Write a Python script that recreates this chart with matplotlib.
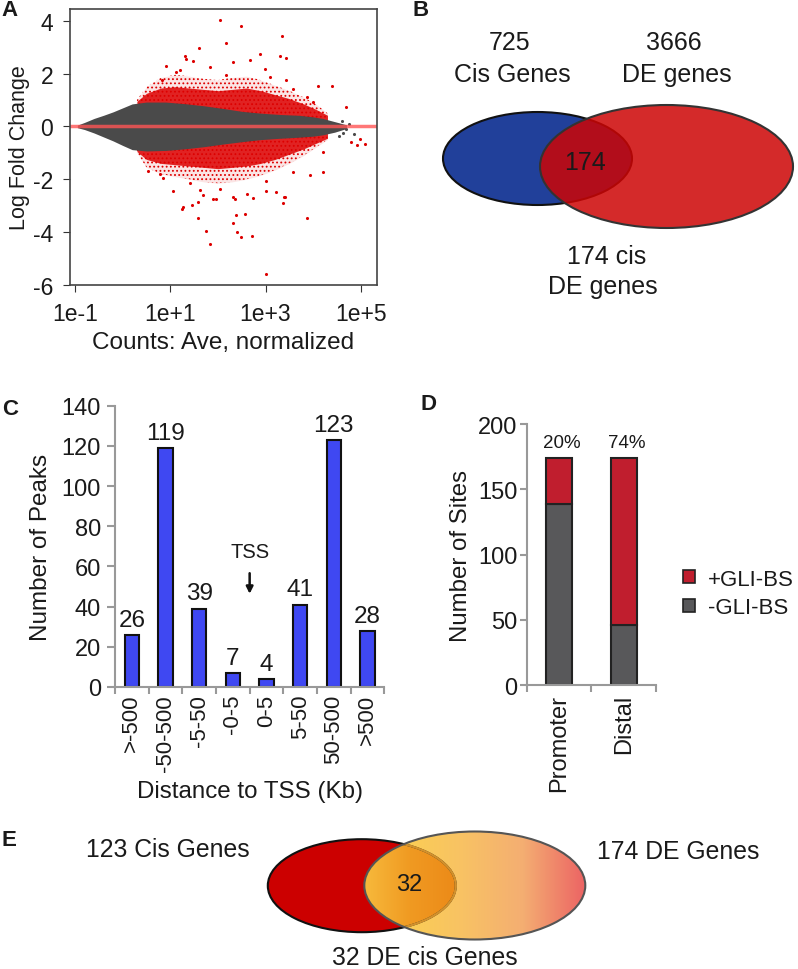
import numpy as np
import matplotlib
matplotlib.use('Agg')
import matplotlib.pyplot as plt
from matplotlib.patches import Ellipse, Patch, PathPatch
from matplotlib.path import Path
from matplotlib.colors import LinearSegmentedColormap
from matplotlib.ticker import NullLocator

plt.rcParams['font.family'] = ['Liberation Sans', 'DejaVu Sans']
plt.rcParams['hatch.linewidth'] = 0.8
TXT = '#1a1a1a'

# ---- data -------------------------------------------------------------
# A: MA plot (log10 of mean counts, log fold change)
core_logx = [-0.95, -0.8, -0.6, -0.4, -0.2, 0.0, 0.2, 0.5, 0.9, 1.3, 1.7, 2.1,
             2.5, 2.9, 3.3, 3.7, 4.0, 4.2, 4.45, 4.7]
core_hi = [0.05, 0.15, 0.3, 0.42, 0.55, 0.7, 0.85, 0.92, 0.92, 0.86, 0.78, 0.68,
           0.57, 0.5, 0.45, 0.42, 0.36, 0.3, 0.18, 0.06]
core_lo = [-0.05, -0.12, -0.25, -0.4, -0.55, -0.72, -0.88, -0.93, -0.91, -0.85,
           -0.77, -0.67, -0.58, -0.5, -0.45, -0.41, -0.37, -0.32, -0.22, -0.08]
de_logx = [0.3, 0.5, 0.8, 1.1, 1.4, 1.7, 2.0, 2.3, 2.6, 2.9, 3.2, 3.5, 3.8, 4.05, 4.3]
de_dense_hi = [0.95, 1.25, 1.45, 1.5, 1.45, 1.4, 1.35, 1.4, 1.45, 1.35, 1.2, 1.05, 0.85, 0.65, 0.42]
de_dense_lo = [-0.95, -1.25, -1.4, -1.45, -1.5, -1.55, -1.6, -1.55, -1.5, -1.4, -1.25, -1.05, -0.85, -0.65, -0.45]
de_sparse_hi = [1.0, 1.5, 1.85, 1.95, 1.9, 1.8, 1.75, 1.85, 1.9, 1.75, 1.55, 1.35, 1.1, 0.85, 0.5]
de_sparse_lo = [-1.0, -1.55, -1.8, -1.9, -2.0, -2.1, -2.15, -2.1, -2.0, -1.85, -1.65, -1.4, -1.1, -0.8, -0.5]
de_out_logx = [2.04, 2.48, 2.16, 3.34, 1.60, 1.31, 1.48, 0.91, 2.88, 3.31, 3.42, 2.99, 4.10,
               4.40, 4.68, 4.20, 3.94, 1.06, 1.26, 1.24, 1.45, 1.59, 1.90, 2.04, 2.32, 2.62,
               2.74, 3.02, 3.37, 3.41, 1.59, 1.75, 1.83, 2.32, 2.38, 2.41, 2.48, 2.71, 2.57,
               3.00, 3.87, 1.69, 1.41, 0.85, 1.34, 1.13, 1.83, 2.32, 2.67, 3.44, 4.21, 1.97,
               2.36, 3.23, 3.38, 1.62, 0.78, 0.54, 3.02, 3.58, 0.82, 1.20, 2.18, 3.09, 3.58,
               3.86, 4.0, 4.8, 4.99, 5.08, 4.91]
de_out_lfc = [4.04, 3.81, 3.14, 3.40, 2.97, 2.68, 2.49, 2.30, 2.72, 2.65, 2.58, 2.18, 1.51,
              1.51, 0.73, -1.72, -1.85, -2.45, -3.04, -3.13, -2.96, -2.86, -2.73, -2.35,
              -2.67, -2.57, -2.70, -2.45, -2.88, -2.69, -3.48, -3.95, -4.45, -3.64, -3.36,
              -3.99, -4.20, -4.15, -3.33, -5.60, -3.48, -2.60, -2.16, -1.97, 2.56, 2.06,
              2.25, 2.44, 2.5, 1.77, -0.97, -2.74, -2.74, -2.48, -2.68, -2.42, -1.79, -1.67,
              -2.05, -1.73, 1.74, 2.12, 1.93, 1.87, 1.43, 1.11, 0.92, -0.59, -0.47, -0.68, -0.72]
ns_out_logx = [4.49, 4.6, 4.68, 4.75, 4.62, 4.85, 4.55, -0.75, -0.68, -0.6, -0.55]
ns_out_lfc = [0.04, 0.2, -0.1, 0.1, -0.25, -0.3, -0.35, 0.03, 0.02, 0.05, -0.05]

# B: Venn
b_cis, b_de, b_both = 725, 3666, 174

# C: distance to TSS
tss_bins = ['>-500', '-50-500', '-5-50', '-0-5', '0-5', '5-50', '50-500', '>500']
tss_peaks = [26, 119, 39, 7, 4, 41, 123, 28]

# D: sites
site_groups = ['Promoter', 'Distal']
site_minus = [139, 46]
site_plus = [35, 128]

# E: Venn
e_cis, e_de, e_both = 123, 174, 32

W, H = 798, 970
fig = plt.figure(figsize=(W / 100, H / 100), dpi=100)

def rect(l, t, r, b):
    return [l / W, 1 - b / H, (r - l) / W, (b - t) / H]

# ---- A ----------------------------------------------------------------
axA = fig.add_axes(rect(70, 10, 377, 286))
red = '#dd0000'
cx = 10 ** np.array(core_logx)
dx = 10 ** np.array(de_logx)
axA.fill_between(dx, de_sparse_lo, de_sparse_hi, color=red, alpha=0.1, lw=0)
axA.fill_between(dx, de_sparse_lo, de_sparse_hi, facecolor='none', edgecolor=red,
                 hatch='....', lw=0)
axA.fill_between(dx, de_dense_lo, de_dense_hi, color=red, alpha=0.85, lw=0)
axA.fill_between(cx, core_lo, core_hi, color='#4a4a4a', lw=0)
axA.scatter(10 ** np.array(de_out_logx), de_out_lfc, s=5, color=red, lw=0)
axA.scatter(10 ** np.array(ns_out_logx), ns_out_lfc, s=5, color='#4a4a4a', lw=0)
axA.axhline(0, color='#ff5555', lw=2.5, alpha=0.8)
axA.set_xscale('log')
axA.set_xlim(10 ** -1.105, 10 ** 5.34)
axA.set_ylim(-5.99, 4.44)
axA.set_xticks([1e-1, 1e1, 1e3, 1e5])
axA.set_xticklabels(['1e-1', '1e+1', '1e+3', '1e+5'])
axA.xaxis.set_minor_locator(NullLocator())
axA.set_yticks([-6, -4, -2, 0, 2, 4])
axA.set_yticklabels(['-6', '-4', '-2', '0', '2', '4'])
axA.tick_params(labelsize=16.5, length=5, color='#333', labelcolor=TXT, pad=7)
for s in axA.spines.values():
    s.set_color('#444')
    s.set_linewidth(1.2)
axA.set_xlabel('Counts: Ave, normalized', fontsize=17.5, color=TXT)
axA.set_ylabel('Log Fold Change', fontsize=15.5, color=TXT)
axA.xaxis.set_label_coords(0.497, -0.165)
axA.yaxis.set_label_coords(-0.13, 0.5)

# ---- C ----------------------------------------------------------------
axC = fig.add_axes(rect(115, 406.7, 384.3, 688))
xc = np.arange(len(tss_bins))
axC.bar(xc, tss_peaks, width=0.42, color='#3f48f2', edgecolor='#111', lw=1.5)
for x, v in zip(xc, tss_peaks):
    axC.annotate(str(v), (x, v), xytext=(0, 3), textcoords='offset points',
                 ha='center', va='bottom', fontsize=17.5, color=TXT)
axC.set_xlim(-0.5, len(tss_bins) - 0.5)
axC.set_ylim(0, 140)
axC.set_yticks(range(0, 141, 20))
axC.set_xticks(xc)
axC.set_xticklabels(tss_bins, rotation=90, fontsize=16, color=TXT)
axC.set_xticks(np.arange(-0.5, len(tss_bins), 1), minor=True)
axC.tick_params(axis='x', which='major', length=0, pad=5)
axC.tick_params(axis='x', which='minor', length=5, color='#999', width=1.5)
axC.tick_params(axis='y', labelsize=17, length=6, color='#999', width=1.5,
                labelcolor=TXT, pad=4)
for k in ['top', 'right']:
    axC.spines[k].set_visible(False)
for k in ['left', 'bottom']:
    axC.spines[k].set_color('#999')
    axC.spines[k].set_linewidth(1.5)
axC.set_ylabel('Number of Peaks', fontsize=17.5, color=TXT)
axC.yaxis.set_label_coords(-0.234, 0.5)
axC.set_xlabel('Distance to TSS (Kb)', fontsize=17.4, color=TXT)
axC.xaxis.set_label_coords(0.5, -0.33)
axC.text(3.5, 67.3, 'TSS', ha='center', va='center', fontsize=14.5, color=TXT)
axC.annotate('', xy=(3.5, 45.0), xytext=(3.5, 58),
             arrowprops=dict(arrowstyle='-|>', color='#111', lw=1.8, mutation_scale=10))

# ---- D ----------------------------------------------------------------
axD = fig.add_axes(rect(526.5, 425, 656, 686.3))
xd = np.arange(len(site_groups))
axD.bar(xd, site_minus, width=0.4, color='#58585a', edgecolor='#222', lw=1.5)
axD.bar(xd, site_plus, bottom=site_minus, width=0.4, color='#c01e2e', edgecolor='#222', lw=1.5)
for x, m, p in zip(xd, site_minus, site_plus):
    axD.text(x + 0.05, 186, '%d%%' % round(100 * p / (m + p)), ha='center', va='center',
             fontsize=13.5, color=TXT)
axD.set_xlim(-0.5, 1.5)
axD.set_ylim(0, 200)
axD.set_yticks([0, 50, 100, 150, 200])
axD.set_xticks(xd)
axD.set_xticklabels(site_groups, rotation=90, fontsize=17, color=TXT)
axD.set_xticks([-0.5, 0.5, 1.5], minor=True)
axD.tick_params(axis='x', which='major', length=0, pad=6)
axD.tick_params(axis='x', which='minor', length=5, color='#999', width=1.5)
axD.tick_params(axis='y', labelsize=17, length=5, color='#999', width=1.5,
                labelcolor=TXT, pad=1.5)
for k in ['top', 'right']:
    axD.spines[k].set_visible(False)
for k in ['left', 'bottom']:
    axD.spines[k].set_color('#999')
    axD.spines[k].set_linewidth(1.5)
axD.set_ylabel('Number of Sites', fontsize=17.3, color=TXT)
axD.yaxis.set_label_coords(-0.42, 0.5)
fig.legend(handles=[Patch(fc='#c01e2e', ec='#222', lw=1.2), Patch(fc='#58585a', ec='#222', lw=1.2)],
           labels=['+GLI-BS', '-GLI-BS'], loc='center left',
           bbox_to_anchor=(672 / W, 1 - 594.5 / H), frameon=False, fontsize=16,
           handlelength=0.55, handleheight=0.55, handletextpad=0.55, labelspacing=0.36,
           borderpad=0, labelcolor=TXT)

# ---- overlay: Venn diagrams, panel letters ------------------------------
ax0 = fig.add_axes([0, 0, 1, 1])
ax0.axis('off')

# B
ax0.add_patch(Ellipse((537.5, 159.5), 189, 93, fc='#21409a', ec='#111', lw=1.5))
ax0.add_patch(Ellipse((666.5, 167.5), 253, 123, fc=(205 / 255, 5 / 255, 5 / 255, 0.85),
                      ec='#333', lw=1.5))
bfs = 18
ax0.text(510, 43, str(b_cis), ha='center', va='center', fontsize=bfs, color=TXT)
ax0.text(512, 75, 'Cis Genes', ha='center', va='center', fontsize=bfs, color=TXT)
ax0.text(674, 43, str(b_de), ha='center', va='center', fontsize=bfs, color=TXT)
ax0.text(677, 75, 'DE genes', ha='center', va='center', fontsize=bfs, color=TXT)
ax0.text(585, 163, str(b_both), ha='center', va='center', fontsize=bfs, color=TXT)
ax0.text(607, 257, '%d cis' % b_both, ha='center', va='center', fontsize=bfs, color=TXT)
ax0.text(603, 287, 'DE genes', ha='center', va='center', fontsize=bfs, color=TXT)

# E
c1, a1, h1 = (361.8, 886.7), 94.0, 46.5
c2, a2, h2 = (474.8, 886.5), 110.5, 54.0
ax0.add_patch(Ellipse(c1, 2 * a1, 2 * h1, fc='#cc0000', ec='none', zorder=1))
grad_cmap = LinearSegmentedColormap.from_list(
    'g', [(0, '#fdd64a'), (0.45, '#f8c264'), (0.72, '#f4ae72'), (1, '#ec6464')])
e2 = Ellipse(c2, 2 * a2, 2 * h2, fc='none', ec='none')
ax0.add_patch(e2)
gimg = ax0.imshow(np.linspace(0, 1, 256)[None, :], extent=[c2[0] - a2, c2[0] + a2, 941, 832],
                  cmap=grad_cmap, aspect='auto', zorder=2)
gimg.set_clip_path(e2)

# overlap lens of the two ellipses
t = np.linspace(0, 2 * np.pi, 720)
p1 = np.c_[c1[0] + a1 * np.cos(t), c1[1] + h1 * np.sin(t)]
p2 = np.c_[c2[0] + a2 * np.cos(t), c2[1] + h2 * np.sin(t)]
in2 = ((p1[:, 0] - c2[0]) / a2) ** 2 + ((p1[:, 1] - c2[1]) / h2) ** 2 <= 1
in1 = ((p2[:, 0] - c1[0]) / a1) ** 2 + ((p2[:, 1] - c1[1]) / h1) ** 2 <= 1
lens = np.vstack([p1[in2], p2[in1]])
mid = lens.mean(axis=0)
lens = lens[np.argsort(np.arctan2(lens[:, 1] - mid[1], lens[:, 0] - mid[0]))]
lens_patch = PathPatch(Path(np.vstack([lens, lens[:1]]), closed=True), fc='none', ec='none')
ax0.add_patch(lens_patch)
ov_cmap = LinearSegmentedColormap.from_list('o', ['#f7ba3c', '#f09a22', '#ec8a18'])
oimg = ax0.imshow(np.linspace(0, 1, 256)[None, :],
                  extent=[lens[:, 0].min(), lens[:, 0].max(), 941, 832],
                  cmap=ov_cmap, aspect='auto', zorder=3)
oimg.set_clip_path(lens_patch)
ax0.add_patch(Ellipse(c1, 2 * a1, 2 * h1, fc='none', ec='#111', lw=1.5, zorder=4))
ax0.add_patch(Ellipse(c1, 2 * a1, 2 * h1, fc='none', ec='#e8a030', lw=1.6, zorder=4.5,
                      alpha=0.9, clip_path=e2, clip_on=True))
ax0.add_patch(Ellipse(c2, 2 * a2, 2 * h2, fc='none', ec='#555', lw=1.5, zorder=5))
efs = 17.8
ax0.text(167.5, 850, '%d Cis Genes' % e_cis, ha='center', va='center', fontsize=efs, color=TXT)
ax0.text(678, 852, '%d DE Genes' % e_de, ha='center', va='center', fontsize=efs, color=TXT)
ax0.text(409, 885, str(e_both), ha='center', va='center', fontsize=17, color=TXT, zorder=6)
ax0.text(425, 958, '%d DE cis Genes' % e_both, ha='center', va='center', fontsize=efs,
         color=TXT)

for lab, x, y in [('A', 9, 11), ('B', 421, 11), ('C', 10, 410), ('D', 429, 405), ('E', 9, 841)]:
    ax0.text(x, y, lab, ha='center', va='center', fontsize=16, fontweight='bold', color=TXT)

ax0.set_xlim(0, W)
ax0.set_ylim(H, 0)

fig.savefig('out.png', dpi=100)
